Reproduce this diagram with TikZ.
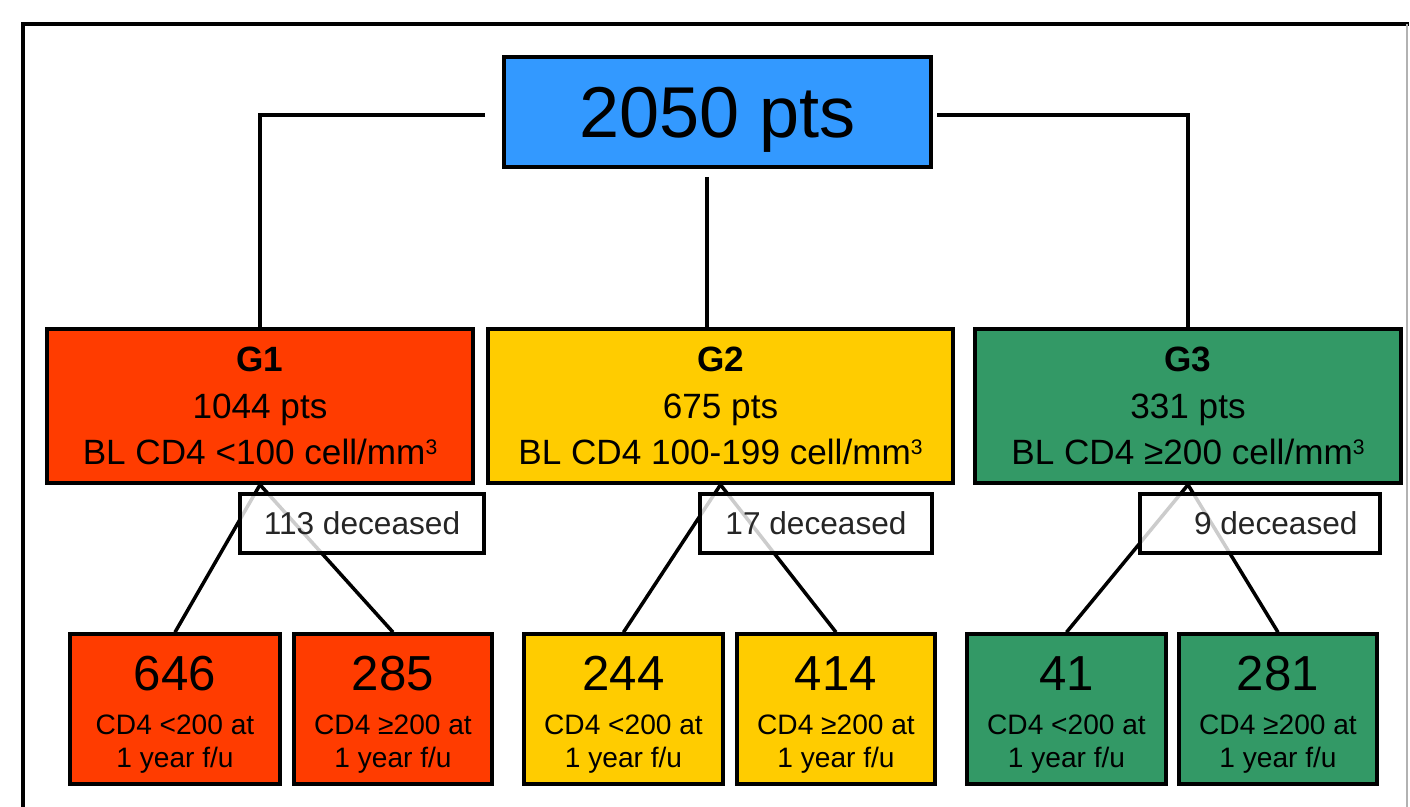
\documentclass[tikz,border=0pt]{standalone}
\usepackage{fontspec}
\setmainfont{Liberation Sans}
\usetikzlibrary{positioning}
\definecolor{ptsblue}{HTML}{3399FF}
\definecolor{gred}{HTML}{FF3C00}
\definecolor{gyellow}{HTML}{FFCC00}
\definecolor{ggreen}{HTML}{339966}
\newcommand{\cubed}{\raisebox{5.5pt}{\fontsize{12}{12}\selectfont 3}}

\begin{document}
\begin{tikzpicture}[x=0.02cm,y=-0.02cm,
    box/.style ={
        draw=black,
        line width=2pt,
        inner sep=2pt,
        align=center
    },
    grp/.style ={
        box,
        minimum height=3.08cm,
        font=\fontsize{20}{26.5}\selectfont
    },
    res/.style ={
        box,
        minimum height=3cm,
        font=\fontsize{16}{18.7}\selectfont
    },
    dead/.style ={
        draw=black,
        line width=1.8pt,
        fill=white,
        fill opacity=0.8,
        text opacity=1,
        text=black!85,
        minimum height=1.18cm,
        font=\fontsize{18}{20}\selectfont
    },
    conn/.style ={
        line width=2pt
    }
    ]
    \useasboundingbox (0,0) rectangle (1410,807);
    \draw[line width=2pt] (23,807) |- (1409,24);
    \draw[gray!60, line width=0.6pt] (1407,24) -- (1407,807);

    \node[box, fill=ptsblue, minimum width=8.54cm, minimum height=2.2cm, text depth=0pt, font=\fontsize{41}{45}\selectfont] (all) at (717.5,112) {2050 pts};

    \foreach \x/ \pos/ \bw/ \col/ \txt in {{g1/(260,406)/8.52cm/gred/{\textbf{G1}\\1044 pts\\BL CD4 <100 cell/mm\cubed}},
                                          {g2/(720.5,406)/9.3cm/gyellow/{\textbf{G2}\\675 pts\\BL CD4 100-199 cell/mm\cubed}},
                                          {g3/(1188,406)/8.52cm/ggreen/{\textbf{G3}\\331 pts\\BL CD4 ≥200 cell/mm\cubed}}}
        \node[grp, fill=\col, minimum width=\bw] (\x) at \pos {\txt};

    \foreach \x/ \pos/ \bw/ \col/ \num/ \sub in {{b11/(175,709)/4.2cm/gred/646/{CD4 <200 at}}, {b12/(393,709)/3.96cm/gred/285/{CD4 ≥200 at}},
                                               {b21/(623.5,709)/3.98cm/gyellow/244/{CD4 <200 at}}, {b22/(836,709)/3.96cm/gyellow/414/{CD4 ≥200 at}},
                                               {b31/(1066.5,709)/3.98cm/ggreen/41/{CD4 <200 at}}, {b32/(1278,709)/3.96cm/ggreen/281/{CD4 ≥200 at}}}
        \node[res, fill=\col, minimum width=\bw] (\x) at \pos {{\fontsize{28}{30}\selectfont\rule{0pt}{26pt}\num}\\[6pt]\sub\\{1 year f/u}};

    \coordinate (tl) at (485,115);
    \coordinate (tr) at (937,115);
    \coordinate (tm) at (707,177);
    \draw[conn] (tl) -| (g1.north);
    \draw[conn] (tr) -| (g3.north);
    \draw[conn] (tm) -- (tm |- g2.north);

    \foreach \src/ \dst in {g1/b11, g1/b12, g2/b21, g2/b22, g3/b31, g3/b32}
        \draw[conn] (\src.south) -- (\dst.north);

    \foreach \x/ \pos/ \bw/ \txt in {{d1/(362,523.5)/4.88cm/113 deceased}, {d2/(816,523.5)/4.64cm/17 deceased},
                                    {d3/(1260,523.5)/4.8cm/\hspace{18pt}9 deceased}}
        \node[dead, minimum width=\bw] (\x) at \pos {\txt};
\end{tikzpicture}
\end{document}
